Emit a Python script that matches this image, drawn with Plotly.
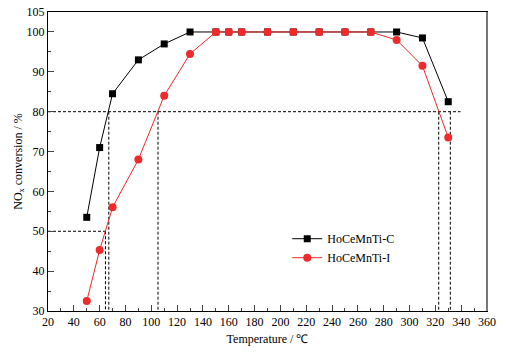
import plotly.graph_objects as go

temps_c = [50, 60, 70, 90, 110, 130, 150, 160, 170, 190, 210, 230, 250, 270, 290, 310, 330]
conv_c = [53.5, 71, 84.5, 93, 97, 100, 100, 100, 100, 100, 100, 100, 100, 100, 100, 98.5, 82.5]
temps_i = [50, 60, 70, 90, 110, 130, 150, 160, 170, 190, 210, 230, 250, 270, 290, 310, 330]
conv_i = [32.5, 45.3, 56, 68, 84, 94.5, 100, 100, 100, 100, 100, 100, 100, 100, 98, 91.5, 73.5]

# guide values: T50 and T80 temperatures
t50_temp = 64.5
t80_temps = [67.1, 105.2, 322.6, 331.6]
h80_end = 339.5

fig = go.Figure()
dash = dict(color="black", width=1, dash="3px,2px")
fig.add_trace(go.Scatter(x=[20, h80_end], y=[80, 80], mode="lines", line=dash, showlegend=False, hoverinfo="skip"))
fig.add_trace(go.Scatter(x=[20, t50_temp], y=[50, 50], mode="lines", line=dash, showlegend=False, hoverinfo="skip"))
fig.add_trace(go.Scatter(x=[t50_temp, t50_temp], y=[50, 30], mode="lines", line=dash, showlegend=False, hoverinfo="skip"))
for t in t80_temps:
    fig.add_trace(go.Scatter(x=[t, t], y=[80, 30], mode="lines", line=dash, showlegend=False, hoverinfo="skip"))

fig.add_trace(go.Scatter(x=temps_c, y=conv_c, mode="lines+markers", name="HoCeMnTi-C",
                         line=dict(color="black", width=1),
                         marker=dict(symbol="square", size=7, color="black")))
fig.add_trace(go.Scatter(x=temps_i, y=conv_i, mode="lines+markers", name="HoCeMnTi-I",
                         line=dict(color="#ee2a2a", width=1),
                         marker=dict(symbol="circle", size=8, color="#ee2a2a")))

font = dict(family="Liberation Serif, Times New Roman, serif", size=12, color="black")
fig.update_layout(
    width=508, height=355,
    margin=dict(l=48, r=21, t=12, b=44, autoexpand=False),
    paper_bgcolor="white", plot_bgcolor="white",
    font=font,
    showlegend=True,
    legend=dict(x=0.545, y=0.21, xanchor="left", yanchor="middle", bgcolor="rgba(0,0,0,0)",
                font=dict(family="Liberation Serif, serif", size=12), itemwidth=30, tracegroupgap=0),
)
fig.update_xaxes(range=[20, 360], tickvals=list(range(20, 361, 20)), ticks="inside", ticklen=6,
                 tickwidth=1, minor=dict(dtick=10, ticks="inside", ticklen=3, tickwidth=1),
                 showline=True, linecolor="black", linewidth=1, mirror=True, showgrid=False,
                 zeroline=False, automargin=False,
                 title=dict(text="Temperature / ℃", standoff=6, font=dict(size=12)))
fig.update_yaxes(range=[30, 105.01], tickvals=list(range(30, 106, 10)) + [105], ticks="inside", ticklen=6,
                 tickwidth=1, minor=dict(dtick=5, ticks="inside", ticklen=3, tickwidth=1),
                 showline=True, linecolor="black", linewidth=1, mirror=True, showgrid=False,
                 zeroline=False, automargin=False,
                 title=dict(text="NO<sub>x</sub> conversion / %", standoff=1, font=dict(size=12)))
fig.add_shape(type="line", xref="paper", yref="paper", x0=1, x1=1, y0=0, y1=1,
              line=dict(color="#777777", width=2))
fig.write_html("out.html", config={"displayModeBar": False},
               post_script="document.body.style.margin='0px';")
